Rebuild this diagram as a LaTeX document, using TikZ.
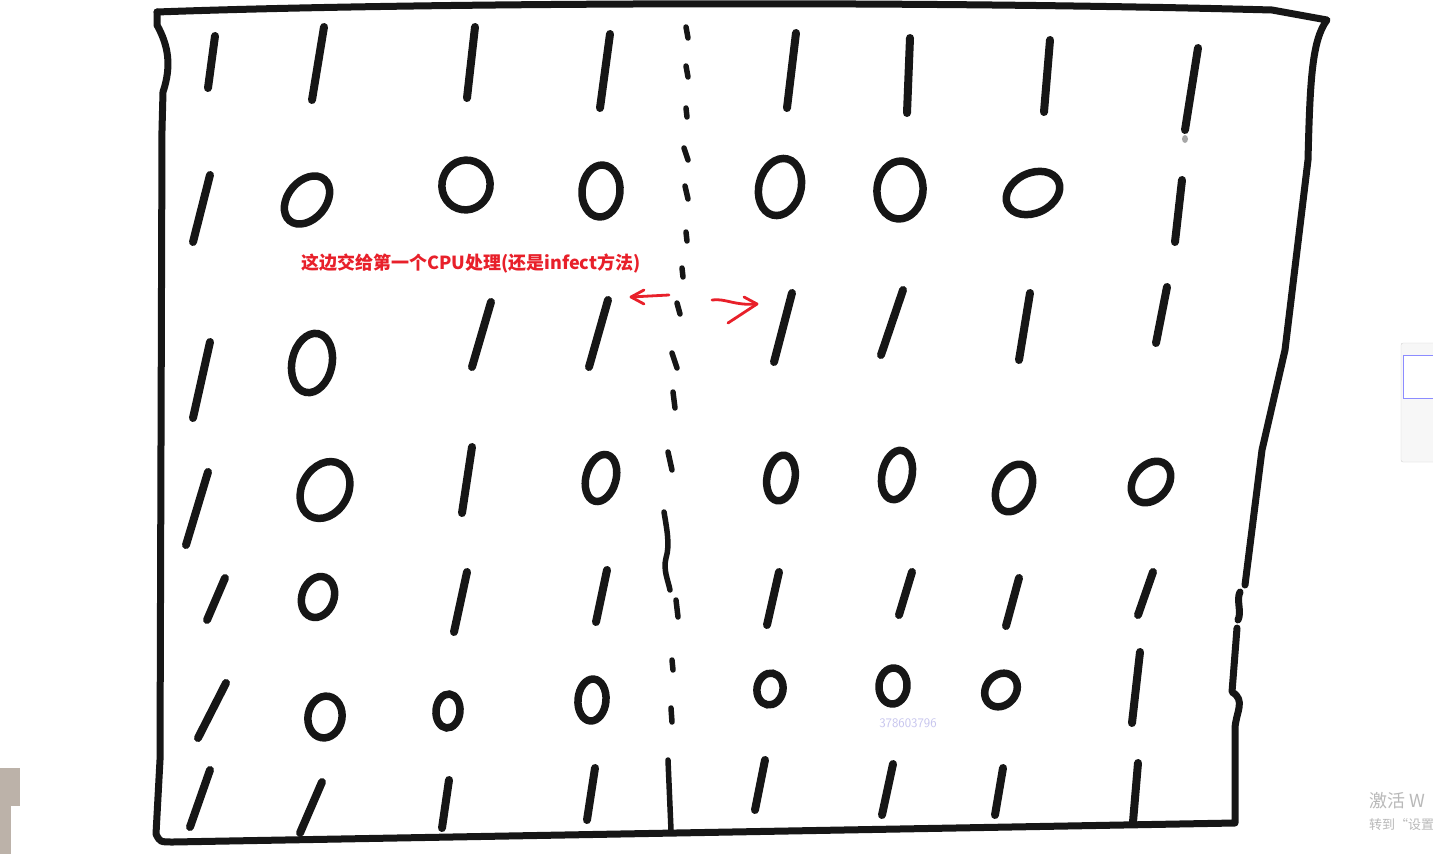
\documentclass[tikz,border=0pt]{standalone}
\usepackage{fontspec}
\newfontfamily\cjk{Noto Sans CJK SC}
\usetikzlibrary{positioning}
\definecolor{penred}{HTML}{E8202A}
\definecolor{ink}{HTML}{161616}
\definecolor{mark}{HTML}{C6C4EE}
\tikzstyle{pen}=[draw=ink,line width=8pt,line cap=round,line join=round]
\tikzstyle{ring}=[draw=ink,line width=7.5pt]
\tikzstyle{dot}=[draw=ink,line width=5.5pt,line cap=round]
\tikzstyle{frame}=[draw=ink,line width=7pt,line cap=round,line join=round]
\tikzstyle{redpen}=[draw=penred,line width=2.8pt,line cap=round,line join=round]
\tikzstyle{note}=[text=penred,font=\cjk\bfseries\fontsize{18}{22}\selectfont]
\tikzstyle{ghost}=[text=gray!55,font=\cjk\fontsize{18}{20}\selectfont,anchor=west,inner sep=0pt]
\newcommand{\newOne}[4]{\draw[pen] (#1,#2) -- (#3,#4);}
\newcommand{\newZero}[5]{\draw[ring,rotate around={#5:(#1,#2)}] (#1,#2) ellipse [x radius=#3,y radius=#4];}

\begin{document}
\begin{tikzpicture}[x=1pt,y=-1pt]
  \useasboundingbox[fill=white] (0,0) rectangle (1433,854);

  % the sheet
  \draw[frame] (157,12) .. controls (400,3) and (900,0) .. (1272,10) -- (1327,20)
    .. controls (1312,40) and (1310,80) .. (1308,160) -- (1285,350) -- (1262,450) -- (1245,585);
  \draw[frame] (1240,592) .. controls (1236,600) and (1242,612) .. (1238,620);
  \draw[frame] (1237,628) -- (1232,692) .. controls (1246,700) and (1236,712) .. (1235,728) -- (1235,823)
    -- (173,842) .. controls (160,842) .. (156,834) -- (160,760) -- (162,130) -- (163,92)
    .. controls (172,65) and (168,45) .. (157,25) -- (157,12);

  % ones
  \foreach \a/\b/\c/\d in {215/36/208/88, 324/27/312/100, 475/27/467/98, 610/34/600/108,
      796/33/787/108, 910/38/907/113, 1050/40/1044/112, 1198/48/1185/130,
      210/175/193/242, 1182/180/1175/242,
      210/342/193/418, 491/302/472/367, 608/300/589/367, 792/293/774/362,
      903/290/881/355, 1030/293/1019/360, 1167/287/1156/343,
      208/472/186/545, 472/447/462/513,
      225/578/207/620, 467/572/454/632, 607/570/596/622, 779/572/767/625,
      912/572/899/615, 1019/578/1006/626, 1153/572/1138/615,
      226/683/198/738, 1140/652/1132/723,
      210/770/190/827, 322/782/300/833, 449/780/442/828, 595/768/587/820,
      765/760/755/810, 893/764/882/815, 1003/768/995/815, 1138/763/1133/822}
    {\newOne{\a}{\b}{\c}{\d}}
  \fill[gray!70] (1185,139) ellipse [x radius=3,y radius=4];

  % zeros
  \foreach \a/\b/\c/\d/\e in {307/200/19/27/-40, 466/185/24/25/-20, 601/191/19/26/-5,
      780/187/21/29/-15, 900/190/23/29/-5, 1033/193/20/28/-65,
      312/363/20/30/-12,
      325/490/23/30/-30, 601/478/15/24/-15, 781/478/14/23/-10, 897/475/15/25/-12,
      1014/488/17/25/-25, 1151/482/17/23/-40,
      318/597/16/21/-20,
      325/717/17/21/-10, 448/711/12/17/-5, 592/700/14/21/-5, 770/689/13/16/-10,
      893/686/14/18/-5, 1001/690/15/18/-40}
    {\newZero{\a}{\b}{\c}{\d}{\e}}

  % divider
  \foreach \a/\b/\c/\d in {686/27/688/38, 686/66/688/77, 686/108/687/117, 684/148/688/160,
      685/186/688/199, 686/232/687/241, 682/268/683/277, 677/303/680/314,
      672/353/677/368, 673/392/675/408, 668/452/672/470, 676/600/678/617,
      672/660/673/670, 671/708/672/722, 668/760/671/830}
    {\draw[dot] (\a,\b) -- (\c,\d);}
  \draw[dot] (664,512) .. controls (667,530) and (670,545) .. (666,558) .. controls (663,570) and (668,580) .. (670,590);

  % note and arrows
  \node[note] (msg) at (471,263) {这边交给第一个CPU处理(还是infect方法)};
  \coordinate (la) at (669,295);
  \coordinate (lb) at (631,297);
  \draw[redpen] (la) -- (lb);
  \draw[redpen] (644,290) -- (lb) -- (644,304);
  \coordinate (ra) at (712,300);
  \coordinate (rb) at (757,304);
  \draw[redpen] (ra) .. controls (725,298) and (735,306) .. (rb);
  \draw[redpen] (744,297) -- (rb) -- (728,323);

  % screen leftovers
  \node[text=mark,font=\sffamily\fontsize{13}{13}\selectfont] (qq) at (908,723) {378603796};
  \node[ghost] (act) at (1369,801) {激活 W};
  \node[ghost,font=\cjk\fontsize{13}{14}\selectfont] (go) at (1369,825) {转到“设置};
  \draw[gray!35,fill=gray!6,rounded corners=2pt] (1401,343) rectangle (1440,462);
  \draw[blue!45,fill=white,line width=1pt] (1403,355) rectangle (1440,398);
  \fill[gray!75!brown!60] (0,768) rectangle (20,854);
  \fill[white] (11,806) rectangle (20,854);
\end{tikzpicture}
\end{document}
